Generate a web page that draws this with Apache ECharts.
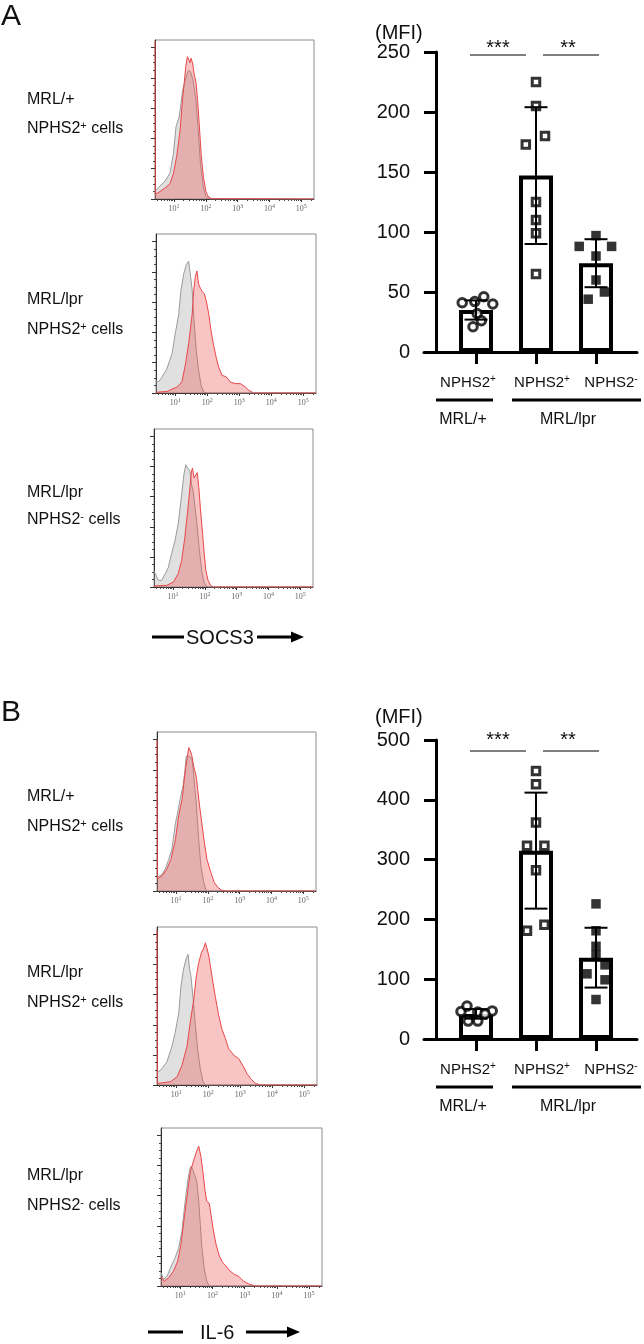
<!DOCTYPE html>
<html>
<head>
<meta charset="utf-8">
<script src="https://cdn.jsdelivr.net/npm/echarts@6/dist/echarts.min.js"></script>
<style>
html,body{margin:0;padding:0;background:#ffffff;}
#chart{width:644px;height:1344px;}
</style>
</head>
<body>
<div id="chart"></div>
<script>
// ================= DATA =================
const barCategories = ['NPHS2+', 'NPHS2+', 'NPHS2-'];
const groupNames = ['MRL/+', 'MRL/lpr'];
const sampleStrain = ['MRL/+', 'MRL/lpr', 'MRL/lpr'];
const sampleCell = ['+', '+', '-'];
const histTickExponents = [1, 2, 3, 4, 5];
const histYMajor = [0, 20, 40, 60, 80, 100];
const histXMinorMultipliers = [2, 3, 4, 5, 6, 7, 8, 9];

// Panel A : SOCS3 MFI
const socs3Mean = [35, 147, 74];
const socs3SD = [8, 57, 20];
const socs3Dots1 = [41, 42, 46, 40, 32, 26, 21];
const socs3Dots2 = [225, 205, 180, 173, 125, 110, 99, 65];
const socs3Dots3 = [97, 88, 88, 80, 60, 50, 44];
const socs3Spread1 = [-0.23, -0.02, 0.13, 0.28, 0.02, 0.09, -0.05];
const socs3Spread2 = [0, 0, 0.15, -0.17, 0, 0, 0, 0];
const socs3Spread3 = [0, -0.28, 0.26, 0, 0, 0.14, -0.13];

// Panel B : IL-6 MFI
const il6Mean = [42, 315, 136];
const il6SD = [8, 97, 50];
const il6Dots1 = [46, 55, 45, 47, 30, 30, 42];
const il6Dots2 = [448, 426, 362, 323, 323, 282, 181, 191];
const il6Dots3 = [226, 181, 155, 140, 124, 109, 99, 66];
const il6Spread1 = [-0.25, -0.15, 0.03, 0.27, -0.13, 0.03, 0.15];
const il6Spread2 = [0, 0, 0, -0.15, 0.14, 0, -0.15, 0.14];
const il6Spread3 = [0, 0, 0, 0, 0.15, -0.15, 0.15, 0];

// Flow histograms: [log10 fluorescence, % of max]
const socsMrlPlusGray = [[0.4,5],[0.43,5],[0.56,8.7],[0.71,11.6],[0.87,17],[0.98,30],[1.06,47.7],[1.16,54],[1.27,71.7],[1.37,80],[1.45,85],[1.52,84],[1.60,78],[1.69,65],[1.76,45],[1.83,23],[1.92,8],[2.0,1.7],[2.13,0],[5.4,0]];
const socsMrlPlusRed = [[0.4,104],[0.41,3],[0.45,2.4],[0.56,5],[0.71,7.2],[0.87,10],[0.98,17],[1.08,28],[1.19,45.5],[1.27,67],[1.32,77],[1.37,88],[1.42,94],[1.47,93.5],[1.50,90],[1.53,93],[1.58,90],[1.63,82.6],[1.69,77],[1.74,65],[1.79,50],[1.85,30],[1.92,15],[2.0,5],[2.07,1.7],[2.18,0.2],[5.4,0]];
const socsLprPosGray = [[0.4,8],[0.48,7.3],[0.59,10.6],[0.74,16],[0.9,26],[1.0,39],[1.11,52],[1.18,68],[1.27,79],[1.35,85],[1.42,87],[1.47,79],[1.53,68],[1.58,50],[1.66,28],[1.73,15],[1.81,5],[1.89,0.7],[1.99,0],[5.4,0]];
const socsLprPosRed = [[0.4,0.5],[0.74,1],[1.06,4],[1.21,7.3],[1.32,19],[1.42,32.6],[1.53,52],[1.58,68],[1.63,77],[1.68,80.6],[1.73,72],[1.79,69],[1.84,67],[1.91,65.6],[1.97,61],[2.05,52],[2.12,41],[2.2,31.5],[2.29,22.7],[2.36,17],[2.46,11.7],[2.6,10.6],[2.72,7.3],[2.88,6.2],[3.04,6.2],[3.19,4],[3.3,1.8],[3.45,0],[5.4,0]];
const socsLprNegGray = [[0.4,10.5],[0.43,9.9],[0.54,4.4],[0.64,4.4],[0.75,8.8],[0.85,13],[0.95,22],[1.06,30.8],[1.16,41.8],[1.27,61.5],[1.34,74.7],[1.40,81.3],[1.46,79],[1.53,77],[1.58,68],[1.63,64],[1.74,44],[1.82,26],[1.9,11],[1.97,3.3],[2.05,0.4],[2.15,0],[5.4,0]];
const socsLprNegRed = [[0.4,0.7],[0.8,1.1],[1.01,3.3],[1.16,8.8],[1.27,17.6],[1.37,33],[1.48,55],[1.53,66],[1.58,77],[1.61,79],[1.66,72.5],[1.69,72],[1.76,76],[1.81,66],[1.86,52],[1.93,35],[1.98,22],[2.03,11],[2.1,4.4],[2.18,1.1],[2.26,0],[5.4,0]];
const il6MrlPlusGray = [[0.4,9],[0.45,9],[0.56,11],[0.66,14.5],[0.77,21],[0.87,27.7],[0.98,45],[1.05,51.6],[1.13,61],[1.22,69.5],[1.27,78],[1.32,89],[1.36,90],[1.43,89],[1.5,87],[1.55,78],[1.64,56],[1.71,34],[1.78,16.7],[1.87,5.7],[1.95,0],[5.4,0]];
const il6MrlPlusRed = [[0.4,100],[0.41,8],[0.42,8],[0.56,10],[0.71,14.5],[0.84,21],[0.98,34],[1.08,49.7],[1.19,60.7],[1.27,76],[1.34,87],[1.4,94.7],[1.45,92.5],[1.5,89],[1.55,82.6],[1.64,75],[1.68,67],[1.74,56],[1.82,43],[1.89,32],[1.97,21],[2.06,14.5],[2.13,10],[2.2,5.7],[2.31,2.4],[2.44,0.5],[2.55,0],[5.4,0]];
const il6LprPosGray = [[0.4,8],[0.45,8.8],[0.56,11],[0.71,15.4],[0.87,26],[0.97,35],[1.08,48],[1.15,66],[1.23,77],[1.32,84.6],[1.37,86.8],[1.42,77],[1.46,72.5],[1.53,57],[1.6,39.6],[1.67,24],[1.75,11],[1.84,2.2],[1.91,0],[5.4,0]];
const il6LprPosRed = [[0.4,103],[0.41,1],[0.45,1.1],[0.82,2.2],[1.03,5.5],[1.18,13],[1.34,26],[1.44,41.8],[1.55,57],[1.63,72.5],[1.7,81],[1.79,88],[1.86,91],[1.91,94.5],[1.96,91],[2.02,85.7],[2.07,79],[2.15,68],[2.22,59],[2.33,46],[2.43,37],[2.54,30.8],[2.64,24],[2.8,19.8],[2.95,17.6],[3.11,12],[3.21,7.7],[3.32,4.4],[3.47,1.1],[3.63,0],[5.4,0]];
const il6LprNegGray = [[0.4,9],[0.43,7.7],[0.48,4.4],[0.59,6.6],[0.74,14.4],[0.84,18.8],[0.95,25.4],[1.05,36.5],[1.15,56.4],[1.23,69.7],[1.29,77.4],[1.33,79.6],[1.39,77.4],[1.44,74],[1.51,69.7],[1.57,56.4],[1.62,41],[1.67,25.4],[1.74,12],[1.82,3.3],[1.9,0],[5.4,0]];
const il6LprNegRed = [[0.4,6],[0.43,5.5],[0.5,3.3],[0.64,5.5],[0.79,10],[0.92,16.6],[1.02,27.7],[1.12,45],[1.23,63],[1.31,76],[1.41,83],[1.49,88.5],[1.57,93],[1.64,86],[1.7,76],[1.77,63],[1.82,56.4],[1.9,55],[1.95,47.6],[2.03,36.5],[2.11,27.7],[2.21,20],[2.32,15.5],[2.42,13.3],[2.54,10],[2.68,7.7],[2.8,6.6],[2.96,3.3],[3.11,1.5],[3.32,0],[5.4,0]];

// ================= LAYOUT / STYLE =================
const FONT = '"Liberation Sans", Arial, Helvetica, sans-serif';
const SERIF = '"Liberation Serif", "DejaVu Serif", serif';
const X_MIN = 0.4, X_MAX = 5.4, Y_MAX = 105;
const BAR_XMIN = 0.1333, BAR_XMAX = 3.6833;
const barLabelPos = [0.867, 2.1, 3.25];

const histXMinor = [];
for (let n = 0; n <= 5; n++) histXMinorMultipliers.forEach(function (k) {
  const v = n + Math.log10(k);
  if (v > X_MIN && v < X_MAX) histXMinor.push(v);
});
const histYMinor = [];
for (let v = 5; v < 100; v += 5) if (v % 20 !== 0) histYMinor.push(v);

const grids = [], xAxes = [], yAxes = [], series = [], graphics = [];

function addHist(box, gray, red) {
  const gi = grids.length;
  grids.push({left: box[0], top: box[1], width: box[2], height: box[3], show: true,
    borderColor: '#8c8c8c', borderWidth: 1, backgroundColor: 'transparent'});
  const xi = xAxes.length, yi = yAxes.length;
  xAxes.push({type: 'value', gridIndex: gi, position: 'bottom', min: X_MIN, max: X_MAX,
    axisLine: {show: true, onZero: false, lineStyle: {color: '#333', width: 1}},
    axisTick: {show: true, customValues: histTickExponents, length: 3, lineStyle: {color: '#333', width: 1}},
    axisLabel: {show: true, customValues: histTickExponents, margin: 4, color: '#666',
      fontFamily: SERIF, fontSize: 8,
      formatter: function (v) { return '10{s|' + Math.round(v) + '}'; },
      rich: {s: {fontFamily: SERIF, fontSize: 6, color: '#666', padding: [0, 0, 5, 0]}}},
    splitLine: {show: false}});
  xAxes.push({type: 'value', gridIndex: gi, position: 'bottom', min: X_MIN, max: X_MAX,
    axisLine: {show: false, onZero: false},
    axisTick: {show: true, customValues: histXMinor, length: 2, lineStyle: {color: '#444', width: 1}},
    axisLabel: {show: false}, splitLine: {show: false}});
  yAxes.push({type: 'value', gridIndex: gi, position: 'left', min: 0, max: Y_MAX,
    axisLine: {show: true, onZero: false, lineStyle: {color: '#333', width: 1}},
    axisTick: {show: true, customValues: histYMajor, length: 4, lineStyle: {color: '#333', width: 1}},
    axisLabel: {show: false}, splitLine: {show: false}});
  yAxes.push({type: 'value', gridIndex: gi, position: 'left', min: 0, max: Y_MAX,
    axisLine: {show: false, onZero: false},
    axisTick: {show: true, customValues: histYMinor, length: 2, lineStyle: {color: '#444', width: 1}},
    axisLabel: {show: false}, splitLine: {show: false}});
  series.push({type: 'line', xAxisIndex: xi, yAxisIndex: yi, data: gray, symbol: 'none',
    smooth: false, z: 2, lineStyle: {color: '#9a9a9a', width: 1},
    areaStyle: {color: 'rgba(168,168,168,0.5)'}});
  series.push({type: 'line', xAxisIndex: xi, yAxisIndex: yi, data: red, symbol: 'none',
    smooth: false, z: 3, lineStyle: {color: '#e8474a', width: 1},
    areaStyle: {color: 'rgba(233,77,77,0.47)'}});
}

function addBarChart(top, height, yMax, yInterval, means, sds, dots, spreads) {
  const gi = grids.length;
  grids.push({left: 424, top: top, width: 213, height: height});
  const xi = xAxes.length, yi = yAxes.length;
  xAxes.push({type: 'value', gridIndex: gi, position: 'bottom', min: BAR_XMIN, max: BAR_XMAX,
    axisLine: {show: true, lineStyle: {color: '#000', width: 3}},
    axisTick: {show: true, customValues: [1, 2, 3], length: 12, lineStyle: {color: '#000', width: 3}},
    axisLabel: {show: false}, splitLine: {show: false}});
  xAxes.push({type: 'value', gridIndex: gi, position: 'bottom', min: BAR_XMIN, max: BAR_XMAX,
    axisLine: {show: false}, axisTick: {show: false},
    axisLabel: {show: true, customValues: barLabelPos, margin: 22, color: '#111',
      formatter: function (v) {
        let idx = 0, best = 1e9;
        barLabelPos.forEach(function (p, k) { if (Math.abs(p - v) < best) { best = Math.abs(p - v); idx = k; } });
        const c = barCategories[idx];
        return '{m|' + c.slice(0, -1) + '}{s|' + c.slice(-1) + '}';
      },
      rich: {m: {fontFamily: FONT, fontSize: 15, color: '#111', lineHeight: 18},
             s: {fontFamily: FONT, fontSize: 10, color: '#111', padding: [0, 0, 8, 0]}}},
    splitLine: {show: false}});
  yAxes.push({type: 'value', gridIndex: gi, position: 'left', offset: -12, min: 0, max: yMax, interval: yInterval,
    axisLine: {show: true, onZero: false, lineStyle: {color: '#000', width: 3}},
    axisTick: {show: true, length: 12, lineStyle: {color: '#000', width: 3}},
    axisLabel: {show: true, margin: 26, fontFamily: FONT, fontSize: 20, color: '#111'},
    splitLine: {show: false}});
  series.push({type: 'bar', xAxisIndex: xi, yAxisIndex: yi, barWidth: 34, z: 2,
    data: means.map(function (m, i) { return [i + 1, m]; }),
    itemStyle: {color: '#fff', borderColor: '#000', borderWidth: 4}});
  const symbols = [
    {symbol: 'circle', symbolSize: 8.5, itemStyle: {color: '#fff', borderColor: '#000', borderWidth: 3}},
    {symbol: 'rect', symbolSize: 7.5, itemStyle: {color: '#fff', borderColor: '#000', borderWidth: 3}},
    {symbol: 'rect', symbolSize: 9.5, itemStyle: {color: '#000', borderColor: '#000', borderWidth: 0}}
  ];
  dots.forEach(function (vals, i) {
    series.push(Object.assign({type: 'scatter', xAxisIndex: xi, yAxisIndex: yi, z: 3,
      data: vals.map(function (v, j) { return [i + 1 + spreads[i][j], v]; })}, symbols[i]));
  });
  series.push({type: 'custom', xAxisIndex: xi, yAxisIndex: yi, z: 4,
    data: means.map(function (m, i) { return [i + 1, m - sds[i], m + sds[i]]; }),
    encode: {x: 0, y: [1, 2]},
    renderItem: function (params, api) {
      const x = api.value(0);
      const lo = api.coord([x, api.value(1)]);
      const hi = api.coord([x, api.value(2)]);
      const w = 11.5, st = {stroke: '#000', lineWidth: 2};
      return {type: 'group', children: [
        {type: 'line', shape: {x1: lo[0], y1: lo[1], x2: hi[0], y2: hi[1]}, style: st},
        {type: 'line', shape: {x1: hi[0] - w, y1: hi[1], x2: hi[0] + w, y2: hi[1]}, style: st},
        {type: 'line', shape: {x1: lo[0] - w, y1: lo[1], x2: lo[0] + w, y2: lo[1]}, style: st}
      ]};
    }});
}

// --- text helpers (annotations) ---
const supRich = {s: {font: '11px ' + FONT, fill: '#111', padding: [0, 0, 7, 0]}};
function txt(x, y, text, size, align, rich) {
  const st = {text: text, font: size + 'px ' + FONT, fill: '#111',
    align: align || 'left', verticalAlign: 'middle', textAlign: align || 'left', textVerticalAlign: 'middle'};
  if (rich) st.rich = rich;
  graphics.push({type: 'text', x: x, y: y, z: 100, style: st});
}
function seg(x1, y1, x2, y2, w) {
  graphics.push({type: 'line', z: 100, shape: {x1: x1, y1: y1, x2: x2, y2: y2}, style: {stroke: '#000', lineWidth: w}});
}
function arrowHead(x, y) {
  graphics.push({type: 'polygon', z: 100, shape: {points: [[x - 13, y - 5.5], [x, y], [x - 13, y + 5.5]]}, style: {fill: '#000'}});
}
function sampleLabel(i, y1, y2) {
  txt(27, y1, sampleStrain[i], 16);
  txt(27, y2, 'NPHS2{s|' + sampleCell[i] + '} cells', 16, 'left', supRich);
}
function barAnnotations(mfiY, starY, sigY, groupY, groupLabelY) {
  txt(375, mfiY, '(MFI)', 20);
  txt(498, starY, '***', 20, 'center');
  txt(568, starY, '**', 20, 'center');
  seg(470, sigY, 526, sigY, 1);
  seg(543, sigY, 599, sigY, 1);
  seg(436, groupY, 493, groupY, 3);
  seg(512, groupY, 641, groupY, 3);
  txt(463, groupLabelY, groupNames[0], 16, 'center');
  txt(568, groupLabelY, groupNames[1], 16, 'center');
}

// ===== Panel A =====
addHist([155, 40, 159, 159], socsMrlPlusGray, socsMrlPlusRed);
addHist([156, 234, 160, 159], socsLprPosGray, socsLprPosRed);
addHist([154, 429, 159, 158], socsLprNegGray, socsLprNegRed);
addBarChart(52, 300, 250, 50, socs3Mean, socs3SD, [socs3Dots1, socs3Dots2, socs3Dots3], [socs3Spread1, socs3Spread2, socs3Spread3]);
// ===== Panel B =====
addHist([157, 732, 159, 159], il6MrlPlusGray, il6MrlPlusRed);
addHist([157, 927, 160, 158], il6LprPosGray, il6LprPosRed);
addHist([161, 1128, 161, 158], il6LprNegGray, il6LprNegRed);
addBarChart(740, 299, 500, 100, il6Mean, il6SD, [il6Dots1, il6Dots2, il6Dots3], [il6Spread1, il6Spread2, il6Spread3]);

// annotations
txt(1, 17, 'A', 30);
txt(1, 713, 'B', 30);
sampleLabel(0, 100, 129);
sampleLabel(1, 300, 330);
sampleLabel(2, 493, 520);
sampleLabel(0, 797, 827);
sampleLabel(1, 973, 1003);
sampleLabel(2, 1176, 1206);
barAnnotations(33, 48, 55, 400, 420);
barAnnotations(717, 740, 751, 1087, 1107);
// x-axis titles of the histograms
seg(152, 637, 184, 637, 3);
txt(186, 638, 'SOCS3', 20);
seg(257, 637, 296, 637, 3);
arrowHead(304, 637);
seg(148, 1332, 183, 1332, 3);
txt(200, 1333, 'IL-6', 20);
seg(246, 1332, 291, 1332, 3);
arrowHead(300, 1332);

const chart = echarts.init(document.getElementById('chart'), null, {renderer: 'canvas'});
chart.setOption({
  animation: false,
  backgroundColor: '#ffffff',
  grid: grids,
  xAxis: xAxes,
  yAxis: yAxes,
  series: series,
  graphic: {elements: graphics}
});
</script>
</body>
</html>
